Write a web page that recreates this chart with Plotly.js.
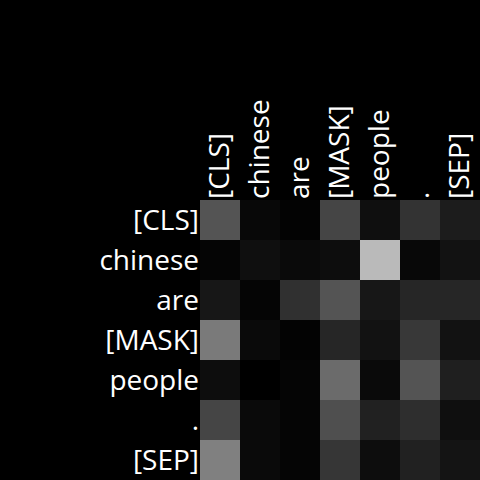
<!DOCTYPE html>
<html><head><meta charset="utf-8">
<script src="https://cdn.plot.ly/plotly-3.0.1.min.js"></script>
<style>html,body{margin:0;padding:0;background:#000;}</style>
</head><body>
<div id="chart" style="width:480px;height:480px;"></div>
<script>
const tokens = ["[CLS]", "chinese", "are", "[MASK]", "people", ".", "[SEP]"];
const attention = [
  [0.33, 0.03, 0.01, 0.27, 0.06, 0.20, 0.11],
  [0.02, 0.06, 0.04, 0.05, 0.73, 0.03, 0.07],
  [0.09, 0.02, 0.19, 0.33, 0.09, 0.15, 0.15],
  [0.48, 0.04, 0.01, 0.15, 0.07, 0.22, 0.07],
  [0.05, 0.00, 0.02, 0.42, 0.04, 0.33, 0.12],
  [0.27, 0.04, 0.02, 0.31, 0.13, 0.18, 0.06],
  [0.50, 0.04, 0.02, 0.21, 0.05, 0.13, 0.08]
];
Plotly.newPlot('chart', [{
  type: 'heatmap',
  z: attention,
  x: tokens,
  y: tokens,
  zmin: 0, zmax: 1,
  colorscale: [[0, '#000000'], [1, '#ffffff']],
  showscale: false,
  xgap: 0, ygap: 0
}], {
  width: 480, height: 480,
  paper_bgcolor: '#000', plot_bgcolor: '#000',
  margin: {l: 200, r: 0, t: 200, b: 0},
  font: {family: 'Open Sans', color: '#ffffff', size: 28},
  xaxis: {side: 'top', tickangle: -90, showgrid: false, zeroline: false, ticks: '', ticklen: 0, type: 'category', tickfont: {size: 28}, automargin: false},
  yaxis: {autorange: 'reversed', showgrid: false, zeroline: false, ticks: '', ticklen: 0, type: 'category', tickfont: {size: 28}, automargin: false}
}, {displayModeBar: false, staticPlot: true});
</script>
</body></html>
